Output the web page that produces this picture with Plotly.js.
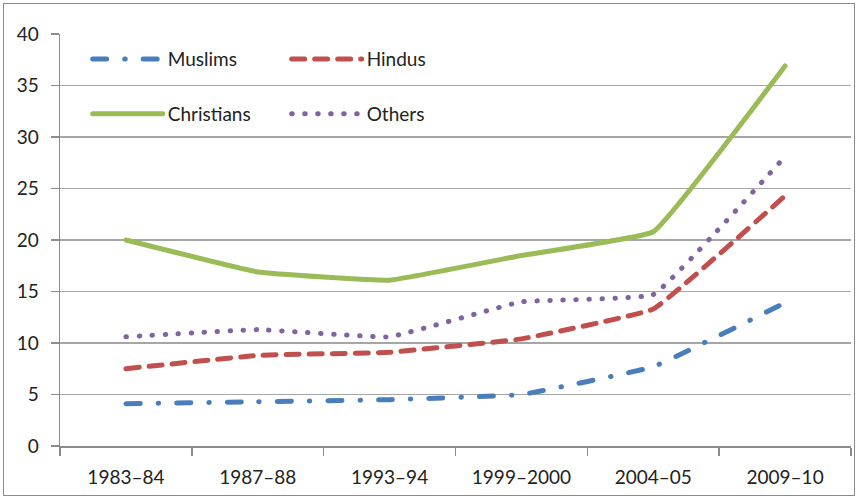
<!DOCTYPE html>
<html><head><meta charset="utf-8">
<script src="https://cdn.plot.ly/plotly-3.0.1.min.js"></script>
<style>
html,body{margin:0;padding:0;background:#fff;}
#wrap{position:absolute;left:3px;top:3px;width:852px;height:493px;border:1.5px solid #8a8a8a;box-sizing:border-box;}
#chart{position:absolute;left:0;top:0;width:864px;height:502px;}
path.js-line{stroke-linecap:round !important;}
</style></head>
<body>
<div id="wrap"></div>
<div id="chart"></div>
<script>
const categories = ["1983–84","1987–88","1993–94","1999–2000","2004–05","2009–10"];
const muslims    = [4.1, 4.3, 4.5, 5.0, 7.7, 13.9];
const hindus     = [7.5, 8.8, 9.1, 10.4, 13.3, 24.3];
const christians = [20.0, 16.9, 16.1, 18.5, 20.8, 36.9];
const others     = [10.6, 11.3, 10.6, 14.0, 14.7, 28.1];

const lw = 5;
const traces = [
  {name:"Muslims", y:muslims, legend:"legend", line:{color:"#4A7EBB", dash:"14px,18px,0.5px,18px"}},
  {name:"Hindus", y:hindus, legend:"legend", line:{color:"#C0504D", dash:"13px,10px"}},
  {name:"Christians", y:christians, legend:"legend2", line:{color:"#9BBB59"}},
  {name:"Others", y:others, legend:"legend2", line:{color:"#8064A2", dash:"0.5px,12.5px"}}
].map(t => ({
  type:"scatter", mode:"lines", x:categories, y:t.y, name:t.name, legend:t.legend,
  line:Object.assign({width:lw, shape:"spline", smoothing:0.25}, t.line)
}));

const font = {family:"Lato, 'Open Sans', sans-serif", size:19, color:"#222"};
const legendCommon = {orientation:"h", x:0.035, xanchor:"left", yanchor:"middle",
  bgcolor:"rgba(0,0,0,0)", font:font, entrywidth:114, entrywidthmode:"pixels", itemwidth:70, traceorder:"normal"};

const layout = {
  width:864, height:502,
  margin:{l:60, r:13, t:34, b:56},
  paper_bgcolor:"rgba(0,0,0,0)", plot_bgcolor:"rgba(0,0,0,0)",
  font:font,
  showlegend:true,
  legend:Object.assign({}, legendCommon, {y:0.939}),
  legend2:Object.assign({}, legendCommon, {y:0.806}),
  xaxis:{type:"category", range:[-0.5,5.5], tickson:"boundaries", ticks:"outside", ticklen:8,
    tickcolor:"#8c8c8c", tickwidth:1.5, showline:true, linecolor:"#8c8c8c", linewidth:1.5,
    showgrid:false, zeroline:false, ticklabelstandoff:14, tickfont:font, fixedrange:true},
  yaxis:{range:[0,40], dtick:5, tick0:0, ticks:"outside", ticklen:8, tickcolor:"#8c8c8c", tickwidth:1.5,
    showline:true, linecolor:"#8c8c8c", linewidth:1.5, showgrid:true, gridcolor:"#a6a6a6", gridwidth:1.5,
    zeroline:false, ticklabelstandoff:8, tickfont:font, fixedrange:true}
};
Plotly.newPlot("chart", traces, layout, {displayModeBar:false, staticPlot:true});
</script>
</body></html>
